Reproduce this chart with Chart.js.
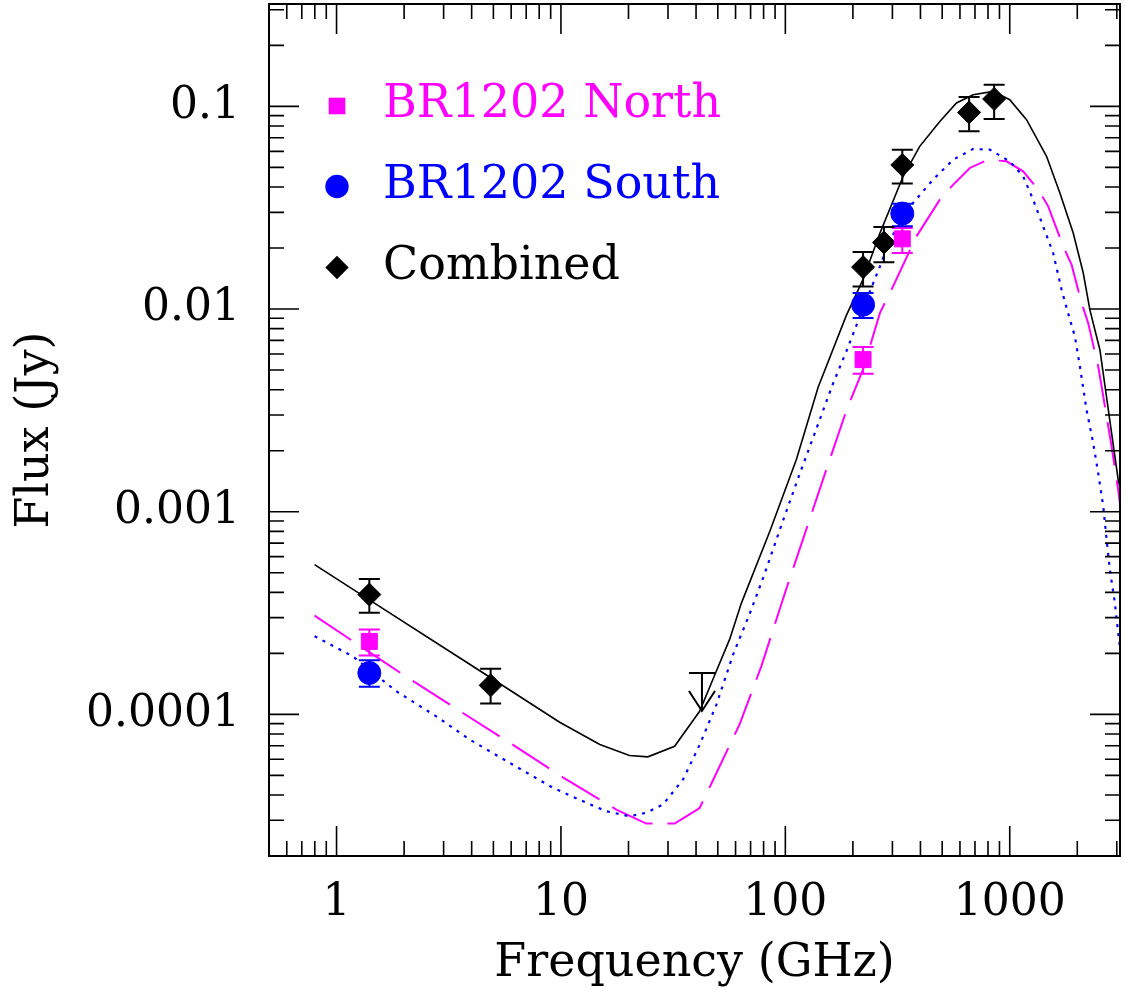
<!DOCTYPE html>
<html>
<head>
<meta charset="utf-8">
<script src="https://cdn.jsdelivr.net/npm/chart.js@4.4.0/dist/chart.umd.min.js"></script>
<style>
html,body{margin:0;padding:0;background:#fff;}
#wrap{width:1125px;height:993px;position:relative;}
canvas{display:block;}
</style>
</head>
<body>
<div id="wrap"><canvas id="c"></canvas></div>
<script>
const FONT = 'DejaVu Serif';

// Axis ticks
const xTickValues = [1, 10, 100, 1000];
const xTickLabels = ['1', '10', '100', '1000'];
const yTickValues = [0.0001, 0.001, 0.01, 0.1];
const yTickLabels = ['0.0001', '0.001', '0.01', '0.1'];
const legendLabels = ['BR1202 North', 'BR1202 South', 'Combined'];

// Measured points (GHz, Jy)
const northFreq = [1.4, 222, 332];
const northFlux = [2.29e-4, 5.63e-3, 0.0222];
const northLow  = [1.95e-4, 4.80e-3, 0.0189];
const northHigh = [2.62e-4, 6.50e-3, 0.0251];

const southFreq = [1.4, 222, 332];
const southFlux = [1.60e-4, 0.0105, 0.0296];
const southLow  = [1.37e-4, 0.00904, 0.0256];
const southHigh = [1.85e-4, 0.0120, 0.0331];

const combFreq = [1.4, 4.86, 222, 275, 332, 659, 852];
const combFlux = [3.90e-4, 1.39e-4, 0.0161, 0.0213, 0.0514, 0.0934, 0.1088];
const combLow  = [3.17e-4, 1.13e-4, 0.0129, 0.0170, 0.0416, 0.0753, 0.0867];
const combHigh = [4.66e-4, 1.68e-4, 0.0191, 0.0254, 0.0611, 0.1113, 0.128];

// Upper limit (combined)
const limitFreq = [42.5];
const limitFlux = [1.6e-4];

// Model curves
const modelCombFreq = [0.798, 1.40, 3.92, 9.87, 14.9, 20.2, 24.4, 32.1, 41.5, 48.4, 56.5, 63.7, 85.3, 112, 140, 187, 222, 264, 335, 397, 488, 579, 687, 844, 1000, 1188, 1459, 1673, 1918, 2125, 2276, 2522, 2658, 2843, 3042, 3119];
const modelCombFlux = [5.48e-4, 3.67e-4, 1.767e-4, 9.14e-5, 7.10e-5, 6.26e-5, 6.17e-5, 6.96e-5, 1.036e-4, 1.56e-4, 2.35e-4, 3.54e-4, 8.01e-4, 1.81e-3, 4.11e-3, 9.30e-3, 0.0140, 0.0237, 0.0452, 0.0635, 0.0843, 0.1039, 0.1142, 0.1186, 0.1079, 0.0860, 0.0567, 0.0374, 0.0237, 0.0151, 0.0099, 0.0063, 0.00416, 0.00245, 0.00144, 0.00129];

const modelNorthFreq = [0.798, 1.975, 3.42, 5.91, 10.2, 17.66, 24.0, 32.1, 36.2, 41.5, 47.6, 62.6, 78.2, 101, 124, 152, 187, 222, 264, 302, 384, 488, 560, 664, 801, 968, 1148, 1340, 1484, 1731, 1886, 2090, 2236, 2478, 2566, 2747, 2843, 3042, 3119];
const modelNorthFlux = [3.07e-4, 1.572e-4, 1.065e-4, 7.24e-5, 4.89e-5, 3.39e-5, 2.89e-5, 2.89e-5, 3.14e-5, 3.45e-5, 4.73e-5, 8.95e-5, 1.731e-4, 4.165e-4, 8.18e-4, 1.604e-3, 3.15e-3, 5.04e-3, 9.57e-3, 0.01294, 0.02284, 0.03465, 0.04109, 0.04967, 0.05459, 0.05355, 0.04779, 0.03882, 0.03211, 0.0204, 0.01656, 0.01072, 0.00854, 0.00522, 0.00416, 0.00264, 0.0021, 0.001285, 0.001024];

const modelSouthFreq = [0.798, 1.18, 1.846, 2.78, 3.92, 5.91, 9.21, 12.98, 15.9, 20.2, 24.0, 28.5, 35.0, 41.5, 49.3, 58.5, 69.4, 79.6, 97.7, 116, 133, 163, 187, 215, 264, 292, 371, 455, 560, 687, 815, 1000, 1148, 1271, 1409, 1561, 1702, 1854, 1951, 2054, 2198, 2354, 2478, 2610, 2702, 2793, 2941, 3042, 3119];
const modelSouthFlux = [2.43e-4, 1.935e-4, 1.30e-4, 9.78e-5, 7.51e-5, 5.76e-5, 4.34e-5, 3.66e-5, 3.33e-5, 3.14e-5, 3.27e-5, 3.59e-5, 4.77e-5, 7.07e-5, 1.117e-4, 1.973e-4, 3.14e-4, 4.71e-4, 9.06e-4, 1.542e-3, 2.32e-3, 4.28e-3, 6.18e-3, 9.2e-3, 0.01624, 0.022, 0.03338, 0.04349, 0.05459, 0.06164, 0.06115, 0.05355, 0.04516, 0.03465, 0.02559, 0.01891, 0.01246, 0.00887, 0.00733, 0.00522, 0.00319, 0.002185, 0.001554, 0.001063, 7.28e-4, 5.18e-4, 3.55e-4, 2.52e-4, 2.01e-4];

const MAGENTA = '#ff00ff', BLUE = '#0000ff', BLACK = '#000000';

const toXY = (xs, ys) => xs.map((x, i) => ({x: x, y: ys[i]}));

const errorGroups = [
  {freq: northFreq, low: northLow, high: northHigh, color: MAGENTA},
  {freq: southFreq, low: southLow, high: southHigh, color: BLUE},
  {freq: combFreq, low: combLow, high: combHigh, color: BLACK}
];

const errorBarPlugin = {
  id: 'errorBars',
  afterDatasetsDraw(chart) {
    const {ctx, scales: {x, y}} = chart;
    ctx.save();
    ctx.lineWidth = 2;
    errorGroups.forEach(g => {
      ctx.strokeStyle = g.color;
      g.freq.forEach((f, i) => {
        const px = x.getPixelForValue(f);
        const pl = y.getPixelForValue(g.low[i]);
        const ph = y.getPixelForValue(g.high[i]);
        ctx.beginPath();
        ctx.moveTo(px, pl); ctx.lineTo(px, ph);
        ctx.moveTo(px - 10.5, pl); ctx.lineTo(px + 10.5, pl);
        ctx.moveTo(px - 10.5, ph); ctx.lineTo(px + 10.5, ph);
        ctx.stroke();
      });
    });
    // upper limit arrow
    ctx.strokeStyle = BLACK;
    limitFreq.forEach((f, i) => {
      const px = x.getPixelForValue(f);
      const py = y.getPixelForValue(limitFlux[i]);
      const tip = py + 38;
      ctx.beginPath();
      ctx.moveTo(px - 13, py); ctx.lineTo(px + 13, py);
      ctx.moveTo(px, py); ctx.lineTo(px, tip);
      ctx.moveTo(px - 13, tip - 20); ctx.lineTo(px, tip); ctx.lineTo(px + 13, tip - 20);
      ctx.stroke();
    });
    ctx.restore();
  }
};

const framePlugin = {
  id: 'frameTicks',
  afterDatasetsDraw(chart) {
    const {ctx, chartArea: a, scales: {x, y}} = chart;
    ctx.save();
    ctx.strokeStyle = BLACK;
    ctx.lineWidth = 1.6;
    ctx.beginPath();
    for (let k = -1; k <= 3; k++) {
      for (let m = 1; m <= 9; m++) {
        const v = m * Math.pow(10, k);
        if (v < x.min * 0.999 || v > x.max * 1.001) continue;
        const px = x.getPixelForValue(v);
        const len = m === 1 ? 30 : 15;
        ctx.moveTo(px, a.bottom); ctx.lineTo(px, a.bottom - len);
        ctx.moveTo(px, a.top); ctx.lineTo(px, a.top + len);
      }
    }
    for (let k = -5; k <= -1; k++) {
      for (let m = 1; m <= 9; m++) {
        const v = m * Math.pow(10, k);
        if (v < y.min * 0.999 || v > y.max * 1.001) continue;
        const py = y.getPixelForValue(v);
        const len = m === 1 ? 30 : 15;
        ctx.moveTo(a.left, py); ctx.lineTo(a.left + len, py);
        ctx.moveTo(a.right, py); ctx.lineTo(a.right - len, py);
      }
    }
    ctx.stroke();
    ctx.lineWidth = 2;
    ctx.strokeRect(a.left, a.top, a.right - a.left, a.bottom - a.top);
    ctx.restore();
  }
};

const legendItems = [
  {label: legendLabels[0], color: MAGENTA, shape: 'square', dy: 102},
  {label: legendLabels[1], color: BLUE, shape: 'circle', dy: 182.5},
  {label: legendLabels[2], color: BLACK, shape: 'diamond', dy: 263.5}
];

const legendPlugin = {
  id: 'innerLegend',
  afterDraw(chart) {
    const {ctx, chartArea: a} = chart;
    ctx.save();
    ctx.font = '46px "' + FONT + '"';
    ctx.textAlign = 'left';
    ctx.textBaseline = 'alphabetic';
    legendItems.forEach(it => {
      const mx = a.left + 68, my = a.top + it.dy;
      ctx.fillStyle = it.color;
      ctx.beginPath();
      if (it.shape === 'square') {
        ctx.rect(mx - 8.3, my - 8.3, 16.6, 16.6);
      } else if (it.shape === 'circle') {
        ctx.arc(mx, my, 11.7, 0, Math.PI * 2);
      } else {
        ctx.moveTo(mx - 11.7, my); ctx.lineTo(mx, my - 11.7);
        ctx.lineTo(mx + 11.7, my); ctx.lineTo(mx, my + 11.7);
        ctx.closePath();
      }
      ctx.fill();
      ctx.fillText(it.label, a.left + 114, my + 11);
    });
    ctx.restore();
  }
};

const tickFont = {family: FONT, size: 44};
const titleFont = {family: FONT, size: 46};

function zeroPad(s) {
  s.paddingTop = 0; s.paddingBottom = 0; s.paddingLeft = 0; s.paddingRight = 0;
}

new Chart(document.getElementById('c'), {
  type: 'scatter',
  data: {
    datasets: [
      {label: legendLabels[0], data: toXY(northFreq, northFlux), pointStyle: 'rect', pointRadius: 11.3,
       backgroundColor: MAGENTA, borderColor: MAGENTA, pointBorderWidth: 1},
      {label: legendLabels[1], data: toXY(southFreq, southFlux), pointStyle: 'circle', pointRadius: 11.5,
       backgroundColor: BLUE, borderColor: BLUE, pointBorderWidth: 1},
      {label: legendLabels[2], data: toXY(combFreq, combFlux), pointStyle: 'rectRot', pointRadius: 11.5,
       backgroundColor: BLACK, borderColor: BLACK, pointBorderWidth: 1},
      {label: 'model combined', data: toXY(modelCombFreq, modelCombFlux), showLine: true, pointRadius: 0,
       borderColor: BLACK, borderWidth: 1.6, clip: 0},
      {label: 'model south', data: toXY(modelSouthFreq, modelSouthFlux), showLine: true, pointRadius: 0,
       borderColor: BLUE, borderWidth: 2.2, borderDash: [3, 6], clip: 0},
      {label: 'model north', data: toXY(modelNorthFreq, modelNorthFlux), showLine: true, pointRadius: 0,
       borderColor: MAGENTA, borderWidth: 2, borderDash: [44, 15], clip: 0}
    ]
  },
  options: {
    responsive: true,
    maintainAspectRatio: false,
    animation: false,
    layout: {autoPadding: false, padding: {top: 4, right: 5, left: 0, bottom: 0}},
    plugins: {legend: {display: false}, tooltip: {enabled: false}},
    scales: {
      x: {
        type: 'logarithmic', position: 'bottom', min: 0.5, max: 3100,
        afterFit: s => { s.height = 137; zeroPad(s); },
        afterBuildTicks: s => { s.ticks = xTickValues.map(v => ({value: v})); },
        ticks: {
          font: tickFont, color: BLACK, padding: 21, maxRotation: 0, autoSkip: false,
          callback: v => { const i = xTickValues.indexOf(v); return i >= 0 ? xTickLabels[i] : ''; }
        },
        grid: {display: false, drawTicks: false},
        border: {display: false},
        title: {display: true, text: 'Frequency (GHz)', font: titleFont, color: BLACK, padding: {top: 0, bottom: 1}}
      },
      y: {
        type: 'logarithmic', position: 'left', min: 2e-5, max: 0.32,
        afterFit: s => { s.width = 269; zeroPad(s); },
        afterBuildTicks: s => { s.ticks = yTickValues.map(v => ({value: v})); },
        ticks: {
          font: tickFont, color: BLACK, padding: 29, autoSkip: false,
          callback: v => { const i = yTickValues.indexOf(v); return i >= 0 ? yTickLabels[i] : ''; }
        },
        grid: {display: false, drawTicks: false},
        border: {display: false},
        title: {display: true, text: 'Flux (Jy)', font: titleFont, color: BLACK, padding: {top: 8, bottom: 0}}
      }
    }
  },
  plugins: [errorBarPlugin, framePlugin, legendPlugin]
});
</script>
</body>
</html>
